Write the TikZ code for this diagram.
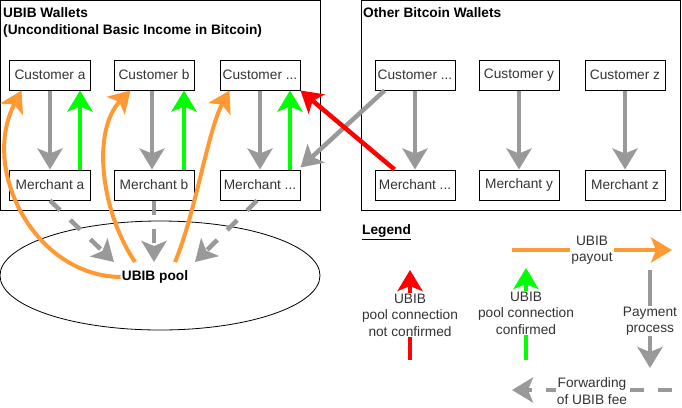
\documentclass[tikz,border=0pt]{standalone}
\usepackage{fontspec}
\setmainfont{Liberation Sans}
\usetikzlibrary{arrows.meta,shapes.geometric}
\definecolor{ggray}{HTML}{999999}
\definecolor{gorange}{HTML}{FF9933}
\definecolor{ggreen}{HTML}{00FF00}
\definecolor{gred}{HTML}{FF0000}
\begin{document}
\begin{tikzpicture}[x=1bp,y=-1bp,
  font=\fontsize{13.7bp}{16.4bp}\selectfont,
  wbox/.style={draw, line width=1bp, minimum width=80bp, minimum height=30bp, inner sep=0pt, text=black!80},
  group/.style={draw, line width=1bp, inner sep=0pt},
  tipb/.style={-{Stealth[length=21bp,width=25bp,inset=5bp]}},
  garrow/.style={tipb, draw=ggray, line width=4.5bp},
  gdash/.style={garrow, dash pattern=on 14bp off 14bp},
  oarrow/.style={tipb, draw=gorange, line width=4bp},
  grarrow/.style={tipb, draw=ggreen, line width=4.5bp},
  rarrow/.style={tipb, draw=gred, line width=4.5bp},
  lbl/.style={fill=white, align=center, inner sep=1bp, text=black!80},
]
\useasboundingbox (0,0) rectangle (682,407);
% groups
\node[group, minimum width=320bp, minimum height=210bp] (ubibgrp) at (160.5,105) {};
\node[group, minimum width=319bp, minimum height=210bp] (othergrp) at (520.5,105) {};
\node[anchor=west, align=left, font=\fontsize{13.7bp}{17bp}\selectfont\bfseries, inner sep=0pt] (t1) at (3,22)
  {UBIB Wallets\\(Unconditional Basic Income in Bitcoin)};
\node[anchor=west, font=\fontsize{13.7bp}{17bp}\selectfont\bfseries, inner sep=0pt] (t2) at (363,13) {Other Bitcoin Wallets};
% pool
\node[ellipse, draw, line width=0.8bp, minimum width=320bp, minimum height=109bp, inner sep=0pt] (pool) at (160,275.5) {};
\node[font=\fontsize{13.7bp}{16.4bp}\selectfont\bfseries, inner sep=1bp] (poolt) at (155,277) {UBIB pool};
% customers and merchants
\node[wbox] (ca) at (50,75) {Customer a};
\node[wbox] (cb) at (154,75) {Customer b};
\node[wbox] (cc) at (260,75) {Customer ...};
\node[wbox] (ma) at (50,185) {Merchant a};
\node[wbox] (mb) at (154,185) {Merchant b};
\node[wbox] (mc) at (260,185) {Merchant ...};
\node[wbox] (ox) at (415,75) {Customer ...};
\node[wbox] (oy) at (519,75) {Customer y};
\node[wbox] (oz) at (625,75) {Customer z};
\node[wbox] (nx) at (415,185) {Merchant ...};
\node[wbox] (ny) at (519,185) {Merchant y};
\node[wbox] (nz) at (625,185) {Merchant z};
% payments
\draw[garrow] (ca.south) -- (ma.north);
\draw[garrow] ([xshift=-2bp]cb.south) -- ([xshift=-2bp]mb.north);
\draw[garrow] (cc.south) -- (mc.north);
\draw[garrow] (ox.south) -- (nx.north);
\draw[garrow] (oy.south) -- (ny.north);
\draw[garrow] (oz.south) -- (nz.north);
\draw[grarrow] ([xshift=30bp]ma.north) -- ([xshift=30bp]ca.south);
\draw[grarrow] ([xshift=30bp]mb.north) -- ([xshift=30bp]cb.south);
\draw[grarrow] ([xshift=30bp]mc.north) -- ([xshift=30bp]cc.south);
\draw[garrow] ([xshift=10bp]ox.south west) -- ([yshift=2bp]mc.north east);
\draw[rarrow] ([xshift=20bp]nx.north west) -- (cc.south east);
% fee forwarding
\coordinate (pa) at (114,262);
\coordinate (pb) at (154,262);
\coordinate (pc) at (195,262);
\draw[gdash] (ma.south) -- (pa);
\draw[gdash] (mb.south) -- (pb);
\draw[gdash] ([xshift=-3bp]mc.south) -- (pc);
% payouts
\draw[oarrow] (poolt.west) .. controls (35,276) and (-20,170) .. ([xshift=12bp]ca.south west);
\draw[oarrow] ([xshift=-20bp,yshift=15bp]poolt.center) .. controls (100,210) and (92,130) .. ([xshift=17bp]cb.south west);
\draw[oarrow] ([xshift=20bp,yshift=15bp]poolt.center) .. controls (195,215) and (208,130) .. ([xshift=10bp]cc.south west);
% legend
\node[anchor=west, font=\fontsize{13.7bp}{16.4bp}\selectfont\bfseries, inner sep=0pt] (leg) at (362,232) {\underline{Legend}};
\coordinate (lo1) at (512,250);
\coordinate (lo2) at (672,250);
\draw[oarrow] (lo1) -- (lo2);
\node[lbl] (lol) at (592,250) {UBIB\\payout};
\coordinate (lg1) at (650,270);
\coordinate (lg2) at (650,368);
\draw[garrow] (lg1) -- (lg2);
\node[lbl] (lgl) at (650,321) {Payment\\process};
\coordinate (ld1) at (672,390);
\coordinate (ld2) at (512,390);
\draw[gdash] (ld1) -- (ld2);
\node[lbl] (ldl) at (592,391) {Forwarding\\of UBIB fee};
\coordinate (lr1) at (410,360);
\coordinate (lr2) at (410,270);
\draw[rarrow] (lr1) -- (lr2);
\node[lbl] (lrl) at (410,315) {UBIB\\pool connection\\not confirmed};
\coordinate (lgr1) at (526,360);
\coordinate (lgr2) at (526,268);
\draw[grarrow] (lgr1) -- (lgr2);
\node[lbl] (lgrl) at (526,313) {UBIB\\pool connection\\confirmed};
\end{tikzpicture}
\end{document}
